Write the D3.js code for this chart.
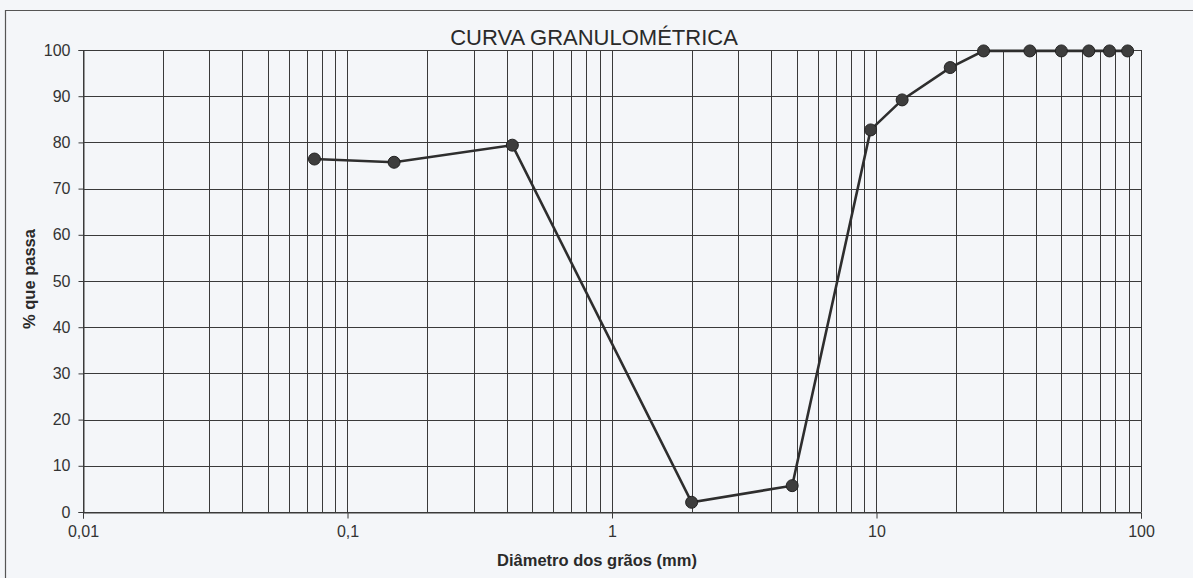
<!DOCTYPE html>
<html><head><meta charset="utf-8">
<script src="https://cdn.jsdelivr.net/npm/d3@7"></script>
<style>body{margin:0;background:#f4f6f9;}svg{display:block;}</style>
</head><body>
<svg id="c" width="1193" height="578"></svg>
<script>
const diameters = [0.075, 0.15, 0.42, 2.0, 4.8, 9.5, 12.5, 19, 25.4, 38, 50, 63.5, 76, 89];
const passing   = [76.4, 75.7, 79.4, 2.1, 5.7, 82.7, 89.2, 96.2, 99.8, 99.8, 99.8, 99.8, 99.8, 99.8];
const xTicks = [0.01, 0.1, 1, 10, 100];
const xTickLabels = ["0,01", "0,1", "1", "10", "100"];
const yTicks = [0, 10, 20, 30, 40, 50, 60, 70, 80, 90, 100];
const title = "CURVA GRANULOMÉTRICA";
const xLabel = "Diâmetro dos grãos (mm)";
const yLabel = "% que passa";

const svg = d3.select("#c");
const L = 83, R = 1141, T = 50, B = 512;
const x = d3.scaleLog().domain([0.01, 100]).range([L, R]);
const y = d3.scaleLinear().domain([0, 100]).range([B, T]);
const ink = "#3a3a3a";
const font = "Arial, 'Liberation Sans', sans-serif";

// outer frame
svg.append("line").attr("x1",5.5).attr("x2",5.5).attr("y1",10).attr("y2",578).attr("stroke","#555").attr("stroke-width",1.2);
svg.append("line").attr("x1",5).attr("x2",1193).attr("y1",10.5).attr("y2",10.5).attr("stroke","#555").attr("stroke-width",1.2);

// vertical grid (log minor)
const minor = [];
for (let d = 0.01; d < 100; d *= 10) for (let k = 1; k <= 10; k++) minor.push(+(d*k).toPrecision(3));
const uniq = Array.from(new Set(minor));
svg.append("g").selectAll("line").data(uniq).join("line")
  .attr("x1", d => Math.round(x(d))+0.5).attr("x2", d => Math.round(x(d))+0.5)
  .attr("y1", T).attr("y2", B).attr("stroke", ink).attr("stroke-width", 1);
// horizontal grid
svg.append("g").selectAll("line").data(yTicks).join("line")
  .attr("x1", L).attr("x2", R).attr("y1", d => Math.round(y(d))+0.5).attr("y2", d => Math.round(y(d))+0.5)
  .attr("stroke", ink).attr("stroke-width", 1);

// axes
const xAxis = d3.axisBottom(x).tickValues(xTicks).tickFormat((d,i) => xTickLabels[i]).tickSize(6).tickPadding(7);
const gx = svg.append("g").attr("transform", `translate(0,${B+0.5})`).call(xAxis);
gx.select(".domain").attr("stroke", ink);
gx.selectAll(".tick line").attr("stroke", ink);
gx.selectAll("text").attr("font-family", font).attr("font-size", 16).attr("fill", "#333");

const yAxis = d3.axisLeft(y).tickValues(yTicks).tickSize(5).tickPadding(8);
const gy = svg.append("g").attr("transform", `translate(${L+0.5},0)`).call(yAxis);
gy.select(".domain").attr("stroke", ink);
gy.selectAll(".tick line").attr("stroke", ink);
gy.selectAll("text").attr("font-family", font).attr("font-size", 16).attr("fill", "#333");

// line + points
const pts = diameters.map((d,i) => [d, passing[i]]);
svg.append("path").datum(pts)
  .attr("d", d3.line().x(d => x(d[0])).y(d => y(d[1])))
  .attr("fill","none").attr("stroke","#2e2e2e").attr("stroke-width",2.6);
svg.append("g").selectAll("circle").data(pts).join("circle")
  .attr("cx", d => x(d[0])).attr("cy", d => y(d[1])).attr("r", 6)
  .attr("fill","#3d3d3d").attr("stroke","#222").attr("stroke-width",1);

// titles
svg.append("text").attr("x", 594).attr("y", 45).attr("text-anchor","middle")
  .attr("font-family", font).attr("font-size", 22).attr("fill","#2a2a2a").text(title);
svg.append("text").attr("x", 597).attr("y", 566).attr("text-anchor","middle")
  .attr("font-family", font).attr("font-size", 16.5).attr("font-weight","bold").attr("fill","#2a2a2a").text(xLabel);
svg.append("text").attr("transform","translate(35,279) rotate(-90)").attr("text-anchor","middle")
  .attr("font-family", font).attr("font-size", 16.5).attr("font-weight","bold").attr("fill","#2a2a2a").text(yLabel);
</script>
</body></html>
